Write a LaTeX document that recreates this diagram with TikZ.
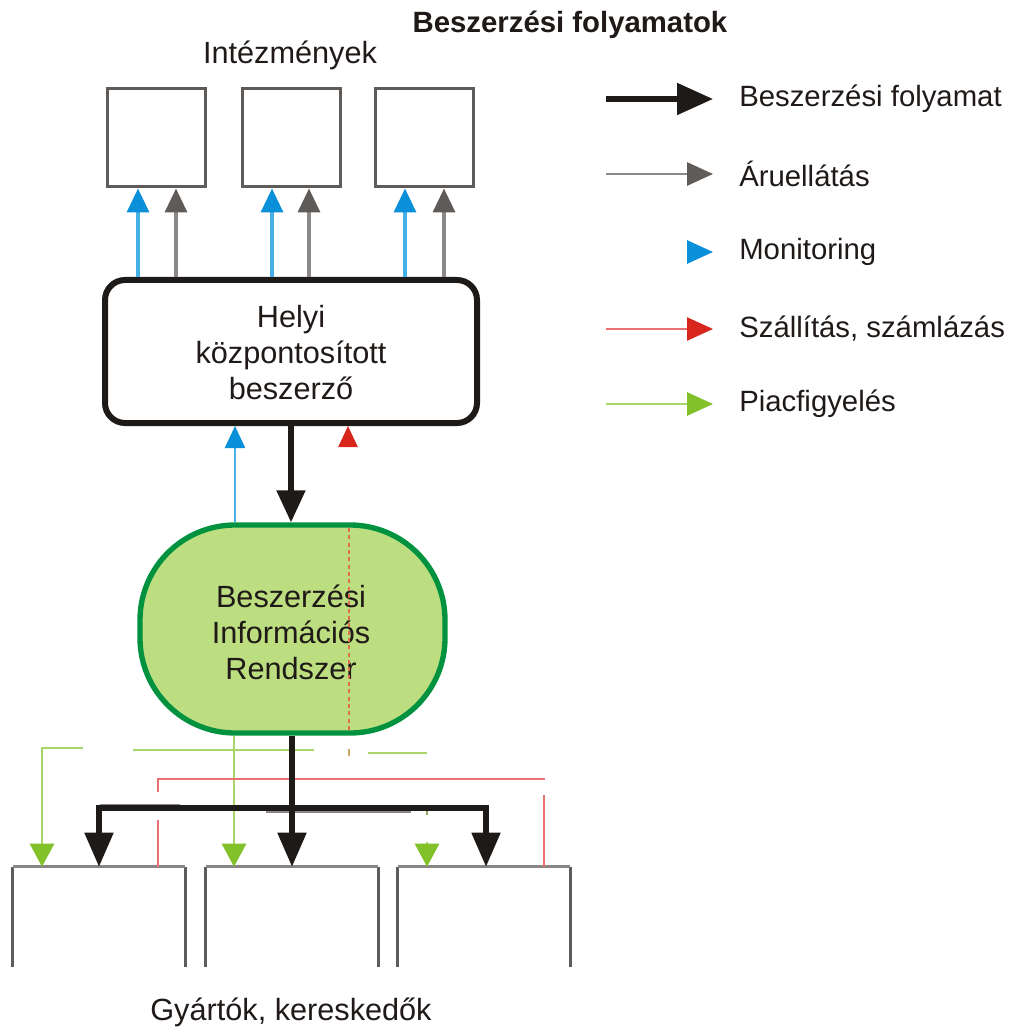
\documentclass[tikz,border=0pt]{standalone}
\usepackage{fontspec}
\setmainfont{Liberation Sans}
\usetikzlibrary{arrows.meta}

\definecolor{ink}{HTML}{1F1A17}
\definecolor{procblack}{HTML}{1D1A18}
\definecolor{framegray}{HTML}{5F5B59}
\definecolor{lightframe}{HTML}{8A8686}
\definecolor{supplyline}{HTML}{8A8888}
\definecolor{supplyhead}{HTML}{5F5B59}
\definecolor{monline}{HTML}{45B0E6}
\definecolor{monhead}{HTML}{0A8FD9}
\definecolor{billline}{HTML}{E87070}
\definecolor{billhead}{HTML}{D9261C}
\definecolor{billdots}{HTML}{E0704C}
\definecolor{tantick}{HTML}{C8A860}
\definecolor{mktline}{HTML}{A8D66A}
\definecolor{mkthead}{HTML}{82C12A}
\definecolor{mkttick}{HTML}{8FA860}
\definecolor{sysfill}{HTML}{BCDD80}
\definecolor{sysedge}{HTML}{00923F}

\begin{document}
\begin{tikzpicture}[x=0.75pt,y=-0.75pt,
  txt/.style={text=ink,font=\fontsize{23}{27}\selectfont,align=center,inner sep=0pt},
  legtxt/.style={text=ink,font=\fontsize{22}{26}\selectfont,anchor=west,inner sep=0pt},
  instbox/.style={draw=framegray,line width=2.25pt,minimum width=73.5pt,minimum height=73.5pt,inner sep=0pt},
  prodbox/.style={minimum width=129pt,minimum height=75pt,inner sep=0pt},
  sidebar/.style={draw=framegray,line width=2.25pt},
  topbar/.style={draw=lightframe,line width=2.25pt},
  monarrow/.style={draw=monline,line width=2.6pt,-{Triangle[length=18pt,width=16.5pt,color=monhead]}},
  supplyarrow/.style={draw=supplyline,line width=2.6pt,-{Triangle[length=18pt,width=16.5pt,color=supplyhead]}},
  procline/.style={draw=procblack,line width=3.8pt},
  procarrow/.style={procline,-{Triangle[length=25.5pt,width=21pt,color=procblack]}},
  mktline/.style={draw=mktline,line width=2.2pt},
  mktarrow/.style={mktline,-{Triangle[length=17.25pt,width=18pt,color=mkthead]}},
  billline/.style={draw=billline,line width=1.9pt},
  billarrow/.style={billline,-{Triangle[length=15.75pt,width=14.25pt,color=billhead]}}
]
\useasboundingbox (0,0) rectangle (1008,1030);

% headings
\node[text=ink,font=\bfseries\fontsize{22}{26}\selectfont] (title) at (570,25) {Beszerzési folyamatok};
\node[txt] (insttitle) at (290,55) {Intézmények};
\node[txt] (prodtitle) at (291,1012) {Gyártók, kereskedők};

% institutions
\node[instbox] (i1) at (156.5,138) {};
\node[instbox] (i2) at (291.5,138) {};
\node[instbox] (i3) at (424.5,138) {};

% local central purchaser
\node[draw=procblack,line width=4.5pt,rounded corners=15pt,minimum width=279pt,minimum height=107.25pt,inner sep=0pt] (hb) at (291,351.5) {};
\node[txt] (hbtext) at (291,353) {Helyi\\központosított\\beszerző};

% procurement information system
\node[draw=sysedge,fill=sysfill,line width=4pt,rounded corners=71.25pt,minimum width=228.75pt,minimum height=156pt,inner sep=0pt] (bir) at (292.5,629) {};
\node[txt] (birtext) at (291,632) {Beszerzési\\Információs\\Rendszer};

% producers and traders (open boxes)
\node[prodbox] (g1) at (99,917) {};
\node[prodbox] (g2) at (292,917) {};
\node[prodbox] (g3) at (484,917) {};
\foreach \g in {g1,g2,g3}{
  \draw[sidebar] (\g.south west) -- (\g.north west);
  \draw[sidebar] (\g.north east) -- (\g.south east);
  \draw[topbar] (\g.north west) -- (\g.north east);
}

% monitoring and supply towards the institutions
\draw[monarrow] (hb.north -| 138,0) -- (i1.south -| 138,0);
\draw[supplyarrow] (hb.north -| 176,0) -- (i1.south -| 176,0);
\draw[monarrow] (hb.north -| 272,0) -- (i2.south -| 272,0);
\draw[supplyarrow] (hb.north -| 309,0) -- (i2.south -| 309,0);
\draw[monarrow] (hb.north -| 405,0) -- (i3.south -| 405,0);
\draw[supplyarrow] (hb.north -| 444,0) -- (i3.south -| 444,0);

% between purchaser and information system
\draw[procarrow,-{Triangle[length=24pt,width=21pt,color=procblack]}] (hb.south) -- (bir.north -| hb.south);
\draw[draw=monline,line width=1.8pt,-{Triangle[length=16.5pt,width=15pt,color=monhead]}] (bir.north -| 235,0) -- (hb.south -| 235,0);
\coordinate (billtop) at (348,444);
\draw[billarrow] (billtop) -- (hb.south -| billtop);
\draw[draw=billdots,line width=1.5pt,dash pattern=on 3pt off 2.5pt] (349,528) -- (349,731);
\draw[draw=tantick,line width=2.2pt] (349,749) -- (349,756);

% market watch
\draw[mktarrow] (83,748) -- (42,748) -- (g1.north -| 42,0);
\draw[mktline] (133,750) -- (314,750);
\draw[mktarrow] (bir.south -| 234,0) -- (g2.north -| 234,0);
\draw[mktline] (368,753) -- (427,753);
\draw[draw=mkttick,line width=2.2pt] (427,807) -- (427,815);
\coordinate (mktlow) at (427,842);
\draw[mktarrow] (mktlow) -- (g3.north -| mktlow);

% delivery and invoicing
\draw[billline] (158,792) -- (158,779) -- (545,779);
\draw[billline] (158,820) -- (g1.north -| 158,0);
\draw[billline] (544,795) -- (g3.north -| 544,0);

% procurement flow to the producers
\draw[draw=supplyline,line width=1.5pt] (100,804.5) -- (180,804.5);
\draw[draw=supplyline,line width=1.5pt] (266,812) -- (411,812);
\coordinate (split) at (292,808);
\draw[procarrow] (bir.south -| 292,0) -- (g2.north -| 292,0);
\draw[procarrow] (split) -| (g1.north -| 99,0);
\draw[procarrow] (split) -| (g3.north -| 486,0);

% legend
\coordinate (l1s) at (606,99);  \coordinate (l1e) at (713,99);
\coordinate (l2s) at (606,174); \coordinate (l2e) at (713,174);
\coordinate (l3s) at (687,252); \coordinate (l3e) at (713,252);
\coordinate (l4s) at (606,329); \coordinate (l4e) at (713,329);
\coordinate (l5s) at (606,404); \coordinate (l5e) at (713,404);
\draw[procline,-{Triangle[length=27pt,width=23.25pt,color=procblack]}] (l1s) -- (l1e);
\draw[draw=supplyline,line width=2.2pt,-{Triangle[length=19.5pt,width=17.25pt,color=supplyhead]}] (l2s) -- (l2e);
\draw[draw=monline,line width=2.2pt,-{Triangle[length=19.5pt,width=17.25pt,color=monhead]}] (l3s) -- (l3e);
\draw[billline,-{Triangle[length=19.5pt,width=17.25pt,color=billhead]}] (l4s) -- (l4e);
\draw[mktline,-{Triangle[length=19.5pt,width=17.25pt,color=mkthead]}] (l5s) -- (l5e);
\node[legtxt] (t1) at (739,99) {Beszerzési folyamat};
\node[legtxt] (t2) at (739,174) {Áruellátás};
\node[legtxt] (t3) at (739,252) {Monitoring};
\node[legtxt] (t4) at (739,329) {Szállítás, számlázás};
\node[legtxt] (t5) at (739,404) {Piacfigyelés};
\end{tikzpicture}
\end{document}
